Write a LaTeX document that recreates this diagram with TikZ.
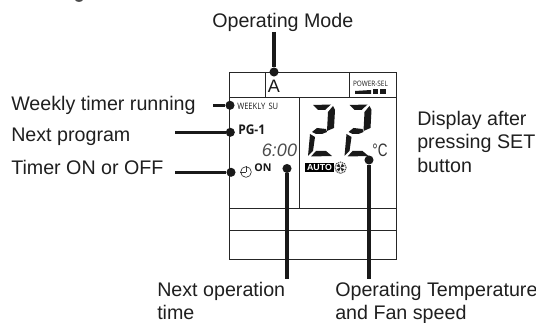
\documentclass[tikz,border=0pt]{standalone}
\usepackage{fontspec}
\usepackage{graphicx}
\setmainfont{Liberation Sans}
\newfontfamily\lcdfont{Open Sans}
\tikzset{
 x=0.75pt,y=-0.75pt,
 frame/.style={draw=black!85,line width=0.75pt},
 lead/.style={draw=black!90,line width=2.3pt},
 blob/.style={circle,fill=black!90,inner sep=0pt,minimum size=6.8pt},
 lbl/.style={font=\fontsize{14.75pt}{17.6pt}\selectfont,inner sep=0pt,text=black!88},
 seg/.style={fill=black!90,draw=none},
 lcd/.style={inner sep=0pt,text=black!90}
}
\begin{document}
\begin{tikzpicture}
\useasboundingbox (0,0) rectangle (536,323);
% frame
\node[frame,draw,rectangle,inner sep=0pt,minimum width=125.25pt,minimum height=140.25pt,anchor=north west] (lcdbox) at (229,72) {};
\coordinate (r1l) at (229,98); \coordinate (r1r) at (396,98);
\coordinate (r2l) at (229,209); \coordinate (r2r) at (396,209);
\coordinate (r3l) at (229,231); \coordinate (r3r) at (396,231);
\draw[frame] (r1l)--(r1r); \draw[frame] (r2l)--(r2r); \draw[frame] (r3l)--(r3r);
\coordinate (v1a) at (265,72); \coordinate (v1b) at (265,98);
\coordinate (v2a) at (349,72); \coordinate (v2b) at (349,98);
\coordinate (v3a) at (299,98); \coordinate (v3b) at (299,209);
\draw[frame] (v1a)--(v1b); \draw[frame] (v2a)--(v2b); \draw[frame] (v3a)--(v3b);
% cropped mark at the top edge
\fill[black!70] (75,0) .. controls (76,2.5) and (82,2.5) .. (83,0) -- cycle;
% labels
\node[lbl,anchor=base west] (mode) at (212,28) {Operating Mode};
\node[lbl,anchor=base west] (weekly) at (11,110.7) {Weekly timer running};
\node[lbl,anchor=base west] (next) at (11,142) {Next program};
\node[lbl,anchor=base west] (onoff) at (11,175) {Timer ON or OFF};
\node[lbl,anchor=north west,align=left] (disp) at (417,111) {Display after\\pressing SET\\button};
\node[lbl,anchor=north west,align=left] (nextop) at (157,282) {Next operation\\time};
\node[lbl,anchor=north west,align=left] (temp) at (335,282) {Operating Temperature\\and Fan speed};
% lcd text
\node[lcd,anchor=base] (amode) at (274,93) {\fontsize{13.5pt}{13pt}\selectfont A};
\node[lcd,anchor=center] (psel) at (370.5,83.5) {\lcdfont\fontsize{5.6pt}{6pt}\selectfont\scalebox{.86}[1]{POWER-SEL}};
\node[lcd,anchor=base west] (wk) at (237,110) {\lcdfont\fontsize{6.6pt}{7pt}\selectfont\scalebox{.86}[1]{WEEKLY\, SU}};
\node[lcd,anchor=base west] (pg) at (238,135) {\lcdfont\fontsize{10pt}{10pt}\selectfont\bfseries\scalebox{.9}[1]{PG-1}};
\node[lcd,anchor=base] (tm) at (279.5,156.5) {\fontsize{13.5pt}{14pt}\selectfont\color{black!70}\itshape 6:00};
\node[lcd,anchor=base west] (on) at (254,172) {\lcdfont\fontsize{8pt}{8pt}\selectfont\bfseries ON};
\node[draw=black!80,circle,inner sep=0pt,minimum size=8pt,line width=0.5pt] (clock) at (246,172) {};
\draw[line width=0.5pt,black!80] (clock.center)--(clock.north) (clock.center)--(clock.west);
\node[fill=black,text=white,inner sep=0pt,minimum width=21.75pt,minimum height=6.75pt,anchor=center,font=\fontsize{6.6pt}{6.6pt}\selectfont\bfseries] (auto) at (319.5,167.5) {AUTO};
\node[draw=black!70,circle,inner sep=0pt,minimum size=8.5pt,line width=0.8pt,dash pattern=on 0.9pt off 0.6pt] (fan) at (340.5,167.7) {};
\foreach \a in {20,110,200,290}{
 \fill[black!85] (fan.center) -- ++(\a:3.2pt) arc[start angle=\a,end angle=\a+50,radius=3.2pt] -- cycle;
}
\node[lcd,anchor=base] (deg) at (380,157) {\fontsize{13.5pt}{13pt}\selectfont\color{black!80}\scalebox{.75}[1]{°C}};
% power bars
\fill[black!90] (355,91) -- (371,90) -- (371,94) -- (355,94) -- cycle;
\fill[black!90] (372.5,89) rectangle (378,94);
\fill[black!90] (380,88.7) rectangle (385.5,94);
% seven segment 22
\foreach \ox in {0,36.5}{
 \begin{scope}[shift={(\ox*0.75pt,0)}]
 \fill[seg] (313,105) -- (331,104.5) -- (325,110) -- (318,110) -- cycle;
 \fill[seg] (333,106) -- (335,110) -- (334,128) -- (327,131) -- (328,112) -- cycle;
 \fill[seg] (312,132) -- (317,128) -- (326,129) -- (327,132) -- (322,134) -- (316,134) -- cycle;
 \fill[seg] (310,134) -- (315,137) -- (313,151) -- (308,156) -- cycle;
 \fill[seg] (316,151) -- (326,151) -- (332,156) -- (311,156.5) -- cycle;
 \end{scope}
}
% leaders
\node[blob] (d1) at (274,72) {};
\coordinate (t1) at (274,32);
\draw[lead] (t1)--(d1);
\node[blob] (d2) at (230,105.3) {};
\coordinate (t2) at (213,105.3);
\draw[lead] (t2)--(d2);
\node[blob] (d3) at (230.3,132.3) {};
\coordinate (t3) at (175,132.3);
\draw[lead] (t3)--(d3);
\node[blob] (d4) at (231,172.3) {};
\coordinate (t4) at (175,172.3);
\draw[lead] (t4)--(d4);
\node[blob] (d5) at (287,168.5) {};
\coordinate (t5) at (287,279);
\draw[lead] (d5)--(t5);
\node[blob] (d6) at (369,160) {};
\coordinate (t6) at (369,279);
\draw[lead] (d6)--(t6);
\end{tikzpicture}
\end{document}
